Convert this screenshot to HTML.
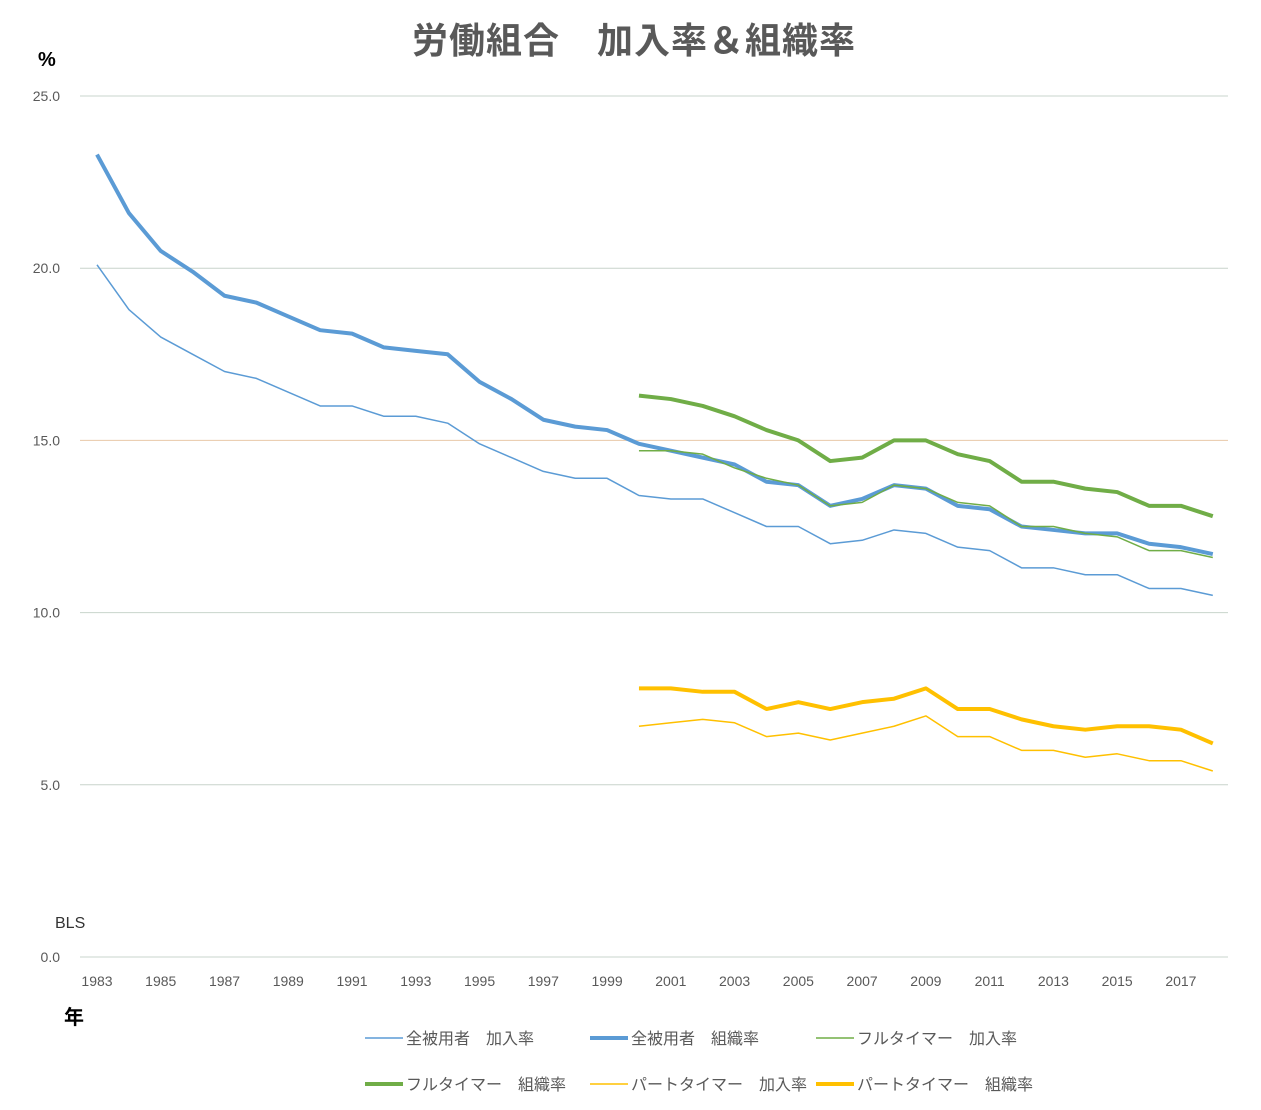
<!DOCTYPE html>
<html><head><meta charset="utf-8"><style>
body{margin:0;background:#fff;}
svg{display:block;font-family:"Liberation Sans","Noto Sans CJK JP",sans-serif;}
</style></head><body>
<svg id="c" width="1261" height="1110">
<text x="634" y="53" text-anchor="middle" font-size="36" font-weight="bold" fill="#595959" letter-spacing="1">労働組合　加入率＆組織率</text>
<text x="38" y="66" font-size="20" font-weight="bold" fill="#000">%</text>
<text x="55" y="928" font-size="16" fill="#333">BLS</text>
<text x="64" y="1024" font-size="20" font-weight="bold" fill="#000">年</text>
<g id="grid"></g><g id="series"></g><g id="legend"></g>
</svg>
<script>
const years=[];for(let y=1983;y<=2018;y++)years.push(y);
const yTicks=[0,5,10,15,20,25];
const allJoin=[20.1,18.8,18.0,17.5,17.0,16.8,16.4,16.0,16.0,15.7,15.7,15.5,14.9,14.5,14.1,13.9,13.9,13.4,13.3,13.3,12.9,12.5,12.5,12.0,12.1,12.4,12.3,11.9,11.8,11.3,11.3,11.1,11.1,10.7,10.7,10.5];
const allOrg=[23.3,21.6,20.5,19.9,19.2,19.0,18.6,18.2,18.1,17.7,17.6,17.5,16.7,16.2,15.6,15.4,15.3,14.9,14.7,14.5,14.3,13.8,13.7,13.1,13.3,13.7,13.6,13.1,13.0,12.5,12.4,12.3,12.3,12.0,11.9,11.7];
const fullJoin=[14.7,14.7,14.6,14.2,13.9,13.7,13.1,13.2,13.7,13.6,13.2,13.1,12.5,12.5,12.3,12.2,11.8,11.8,11.6];
const fullOrg=[16.3,16.2,16.0,15.7,15.3,15.0,14.4,14.5,15.0,15.0,14.6,14.4,13.8,13.8,13.6,13.5,13.1,13.1,12.8];
const partJoin=[6.7,6.8,6.9,6.8,6.4,6.5,6.3,6.5,6.7,7.0,6.4,6.4,6.0,6.0,5.8,5.9,5.7,5.7,5.4];
const partOrg=[7.8,7.8,7.7,7.7,7.2,7.4,7.2,7.4,7.5,7.8,7.2,7.2,6.9,6.7,6.6,6.7,6.7,6.6,6.2];
const NS="http://www.w3.org/2000/svg";
const X=y=>97+(y-1983)*31.88, Y=v=>957-v*34.44;
function mk(t,a,p){const e=document.createElementNS(NS,t);for(const k in a)e.setAttribute(k,a[k]);p.appendChild(e);return e;}
const g=document.getElementById('grid');
yTicks.forEach(v=>{
 const l=mk('line',{x1:80,x2:1228,y1:Y(v),y2:Y(v),stroke:v==15?'#e8c8a8':'#c8d4cc','stroke-width':1},g);
 
 
 const t=mk('text',{x:60,y:Y(v)+5,'text-anchor':'end','font-size':14,fill:'#595959'},g);t.textContent=v.toFixed(1);
 
 
});
years.forEach(y=>{if((y-1983)%2==0){const t=mk('text',{x:X(y),y:986,'text-anchor':'middle','font-size':14,fill:'#595959'},g);t.textContent=y;
 
 }});
const series=[
 {n:'全被用者　加入率',d:allJoin,s:1983,c:'#5b9bd5',w:1.5},
 {n:'全被用者　組織率',d:allOrg,s:1983,c:'#5b9bd5',w:4},
 {n:'フルタイマー　加入率',d:fullJoin,s:2000,c:'#70ad47',w:1.5},
 {n:'フルタイマー　組織率',d:fullOrg,s:2000,c:'#70ad47',w:4},
 {n:'パートタイマー　加入率',d:partJoin,s:2000,c:'#ffc000',w:1.5},
 {n:'パートタイマー　組織率',d:partOrg,s:2000,c:'#ffc000',w:4}];
const sg=document.getElementById('series'),lg=document.getElementById('legend');
const lpos=[[365,1038],[590,1038],[816,1038],[365,1084],[590,1084],[816,1084]];
series.forEach((s,i)=>{
 const p=mk('polyline',{points:s.d.map((v,j)=>X(s.s+j)+','+Y(v)).join(' '),fill:'none',stroke:s.c,'stroke-width':s.w,'stroke-linejoin':'round'},sg);
 
 
 const [lx,ly]=lpos[i];
 const l=mk('line',{x1:lx,x2:lx+38,y1:ly,y2:ly,stroke:s.c,'stroke-width':s.w},lg);
 
 
 const t=mk('text',{x:lx+41,y:ly+6,'font-size':16,fill:'#595959'},lg);t.textContent=s.n;
 
 
});
</script>
</body></html>
